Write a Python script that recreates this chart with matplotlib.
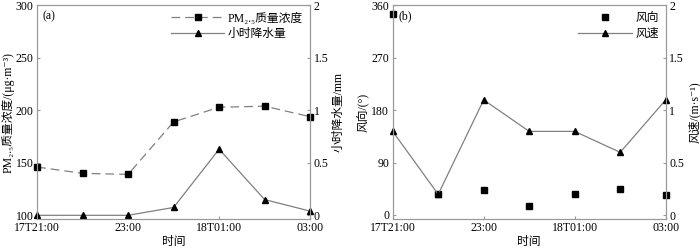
import matplotlib
matplotlib.use("Agg")
import matplotlib.pyplot as plt

plt.rcParams['font.family'] = ['Liberation Serif', 'Noto Sans CJK SC', 'DejaVu Serif']
plt.rcParams['font.size'] = 8.5

# hourly samples 17T21:00 .. 18T03:00
hours = [0, 1, 2, 3, 4, 5, 6]
tick_pos = [0, 2, 4, 6]
tick_labels = ['17T21:00', '23:00', '18T01:00', '03:00']

pm25 = [146, 140, 139, 189, 203, 204, 194]
rain = [0, 0, 0, 0.075, 0.63, 0.15, 0.04]

wind_dir = [346, 36, 43, 15, 36, 44, 34]
wind_spd = [0.8, 0.2, 1.1, 0.8, 0.8, 0.6, 1.1]

line_col = '#808080'
spine_col = '#999999'


def style_axes(ax):
    for s in ax.spines.values():
        s.set_color(spine_col)
    ax.tick_params(direction='in', length=2.5, color=spine_col, pad=2.5)


fig = plt.figure(figsize=(7, 2.48), dpi=100)
ax1 = fig.add_axes([0.053, 0.117, 0.390, 0.861])
ax2 = fig.add_axes([0.561, 0.117, 0.390, 0.861])

# (a) PM2.5 and precipitation
l1, = ax1.plot(hours, pm25, color=line_col, ls=(0, (7, 4)), lw=0.9,
               marker='s', ms=4, mfc='black', mec='black', clip_on=False)
ax1.set_xlim(0, 6)
ax1.set_ylim(96.5, 300)
ax1.set_yticks([100, 150, 200, 250, 300])
ax1.set_xticks(tick_pos)
ax1.set_xticklabels(tick_labels)
ax1.set_ylabel('PM₂.₅质量浓度/(μg·m⁻³)', labelpad=1)
ax1.set_xlabel('时间', labelpad=1)
ax1.text(0.02, 0.975, '(a)', transform=ax1.transAxes, va='top', ha='left')
style_axes(ax1)

ax1r = ax1.twinx()
l2, = ax1r.plot(hours, rain, color=line_col, lw=0.9, marker='^', ms=5,
                mfc='black', mec='black', clip_on=False)
ax1r.set_ylim(-0.035, 2)
ax1r.set_yticks([0, 0.5, 1, 1.5, 2])
ax1r.set_yticklabels(['0', '0.5', '1', '1.5', '2'])
ax1r.set_ylabel('小时降水量/mm', labelpad=3)
style_axes(ax1r)
ax1r.legend([l1, l2], ['PM₂.₅质量浓度', '小时降水量'], loc='upper right',
            frameon=False, handlelength=4.5, borderaxespad=0.2,
            labelspacing=0.3, handletextpad=0.3)

# (b) wind direction and speed
l3, = ax2.plot(hours, wind_dir, ls='none', marker='s', ms=4,
               mfc='black', mec='black', clip_on=False)
ax2.set_xlim(0, 6)
ax2.set_ylim(-7, 360)
ax2.set_yticks([0, 90, 180, 270, 360])
ax2.set_xticks(tick_pos)
ax2.set_xticklabels(tick_labels)
ax2.set_ylabel('风向/(°)', labelpad=1)
ax2.set_xlabel('时间', labelpad=1)
ax2.text(0.02, 0.975, '(b)', transform=ax2.transAxes, va='top', ha='left')
style_axes(ax2)

ax2r = ax2.twinx()
l4, = ax2r.plot(hours, wind_spd, color=line_col, lw=0.9, marker='^', ms=5,
                mfc='black', mec='black', clip_on=False)
ax2r.set_ylim(-0.035, 2)
ax2r.set_yticks([0, 0.5, 1, 1.5, 2])
ax2r.set_yticklabels(['0', '0.5', '1', '1.5', '2'])
ax2r.set_ylabel('风速/(m·s⁻¹)', labelpad=3)
style_axes(ax2r)
ax2r.legend([l3, l4], ['风向', '风速'], loc='upper right',
            frameon=False, handlelength=4.5, borderaxespad=0.2,
            labelspacing=0.3, handletextpad=0.3)

fig.savefig('out.png', dpi=100)
